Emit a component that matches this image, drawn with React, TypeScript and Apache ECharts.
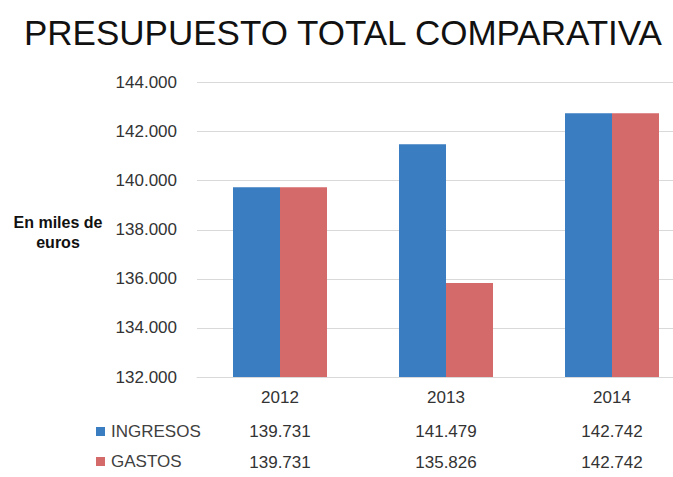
import React, { useEffect, useRef } from "react";
import * as echarts from "echarts";

const categories = ["2012", "2013", "2014"];
const ingresos = [139731, 141479, 142742];
const gastos = [139731, 135826, 142742];
const seriesNames = ["INGRESOS", "GASTOS"];
const titleText = "PRESUPUESTO TOTAL COMPARATIVA";
const axisNameLines = ["En miles de", "euros"];

const fmt = (n: number) => String(Math.round(n)).replace(/\B(?=(\d{3})+(?!\d))/g, ".");

const BLUE = "#3A7DC1";
const RED = "#D46A6A";
const FONT = "Liberation Sans, Arial, sans-serif";

export default function App() {
  const ref = useRef<HTMLDivElement>(null);
  useEffect(() => {
    if (!ref.current) return;
    const chart = echarts.init(ref.current, undefined, { renderer: "svg" });
    const hiddenAxis = {
      show: true,
      axisLine: { show: false },
      axisTick: { show: false },
      splitLine: { show: false },
    };
    chart.setOption({
      animation: false,
      backgroundColor: "#ffffff",
      textStyle: { fontFamily: FONT },
      title: {
        text: titleText,
        left: 24,
        top: 15,
        padding: 0,
        textStyle: { fontSize: 35, fontWeight: "normal", color: "#111111", fontFamily: FONT },
      },
      graphic: [
        {
          type: "text",
          x: 58,
          y: 212,
          style: {
            text: axisNameLines.join("\n"),
            font: "bold 16px " + FONT,
            fill: "#111111",
            align: "center",
            verticalAlign: "top",
            lineHeight: 20,
          },
        },
      ],
      legend: {
        orient: "vertical",
        left: 96,
        top: 423,
        padding: 0,
        itemWidth: 9,
        itemHeight: 9,
        itemGap: 13,
        icon: "rect",
        data: seriesNames,
        textStyle: { fontSize: 17, color: "#404040", fontFamily: FONT, padding: [0, 0, 0, 1] },
      },
      grid: { left: 197, top: 82.5, width: 498, height: 294.5, containLabel: false },
      xAxis: [
        {
          type: "category",
          data: categories,
          axisLine: { lineStyle: { color: "#d9d9d9" } },
          axisTick: { show: false },
          axisLabel: { fontSize: 17, color: "#333333", margin: 12, fontFamily: FONT },
        },
        {
          ...hiddenAxis,
          type: "category",
          position: "bottom",
          offset: 34,
          data: categories,
          axisLabel: {
            fontSize: 17,
            color: "#333333",
            margin: 12,
            fontFamily: FONT,
            formatter: (_v: string, i: number) => fmt(ingresos[i]),
          },
        },
        {
          ...hiddenAxis,
          type: "category",
          position: "bottom",
          offset: 65,
          data: categories,
          axisLabel: {
            fontSize: 17,
            color: "#333333",
            margin: 12,
            fontFamily: FONT,
            formatter: (_v: string, i: number) => fmt(gastos[i]),
          },
        },
      ],
      yAxis: {
        type: "value",
        min: 132000,
        max: 144000,
        interval: 2000,
        axisLine: { show: false },
        axisTick: { show: false },
        splitLine: { lineStyle: { color: "#d9d9d9", width: 1 } },
        axisLabel: {
          fontSize: 17,
          color: "#333333",
          margin: 20,
          fontFamily: FONT,
          formatter: (v: number) => fmt(v),
        },
      },
      series: [
        {
          name: seriesNames[0],
          type: "bar",
          xAxisIndex: 0,
          data: ingresos,
          barWidth: 47,
          barGap: "0%",
          itemStyle: { color: BLUE },
        },
        {
          name: seriesNames[1],
          type: "bar",
          xAxisIndex: 0,
          data: gastos,
          barWidth: 47,
          barGap: "0%",
          itemStyle: { color: RED },
        },
      ],
    });
    return () => chart.dispose();
  }, []);
  return (
    <div style={{ width: 673, height: 477, position: "absolute", left: 0, top: 0, overflow: "hidden", background: "#fff" }}>
      <div ref={ref} style={{ width: 700, height: 477 }} />
    </div>
  );
}
